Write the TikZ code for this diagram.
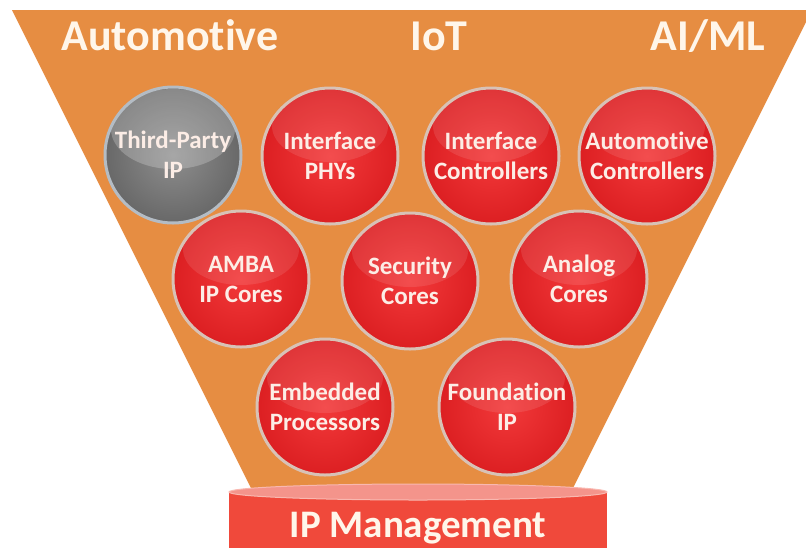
\documentclass[tikz,border=0pt]{standalone}
\usepackage{fontspec}
\setmainfont{Carlito}[Ligatures={NoCommon}]
\begin{document}
\begin{tikzpicture}[x=1pt,y=-1pt,
  hdr/.style={font=\fontsize{44}{44}\selectfont\bfseries, text=headtxt, anchor=base},
  ballbase/.style={circle, minimum size=136pt, inner sep=0pt, line width=3pt,
    align=center, font=\fontsize{25}{30}\selectfont\bfseries, text=balltxt},
  redball/.style={ballbase, draw=rimred, inner color=redin, outer color=redout,
    path picture={\fill[white,opacity=0.10] ([yshift=30pt]path picture bounding box.center) ellipse [x radius=58pt, y radius=36pt];}},
  grayball/.style={ballbase, draw=rimgray, inner color=grayin, outer color=grayout,
    path picture={\fill[white,opacity=0.22] ([yshift=26pt]path picture bounding box.center) ellipse [x radius=62pt, y radius=40pt];}},
]
\definecolor{funnel}{HTML}{E68D42}
\definecolor{headtxt}{HTML}{FFF6EA}
\definecolor{balltxt}{HTML}{FCEDE6}
\definecolor{rimred}{HTML}{D8C2B6}
\definecolor{rimgray}{HTML}{B4BCC4}
\definecolor{redin}{HTML}{F2393A}
\definecolor{redout}{HTML}{DC1F22}
\definecolor{grayin}{HTML}{8E8E8E}
\definecolor{grayout}{HTML}{686868}
\definecolor{cylbody}{HTML}{F0493B}
\definecolor{cyltop}{HTML}{F4948B}
\definecolor{cylrim}{HTML}{F9B8B0}
\clip (0,0) rectangle (806,547);
\useasboundingbox (0,0) rectangle (806,547);
\fill[white] (0,0) rectangle (806,547);
% funnel
\fill[funnel] (12,10) -- (812,10) -- (571,492) -- (253,492) -- cycle;
% headers
\node[hdr] (auto) at (170,50) {Automotive};
\node[hdr] (iot) at (439,50) {IoT};
\node[hdr] (aiml) at (708,50) {AI/ML};
% balls
\node[grayball] (tp) at (173,155) {Third-Party\\IP};
\node[redball] (phy) at (330,156) {Interface\\PHYs};
\node[redball] (ictl) at (491,156) {Interface\\Controllers};
\node[redball] (actl) at (647,156) {Automotive\\Controllers};
\node[redball] (amba) at (241,279) {AMBA\\IP Cores};
\node[redball] (sec) at (410,281) {Security\\Cores};
\node[redball] (ana) at (579,279) {Analog\\Cores};
\node[redball] (emb) at (325,407) {Embedded\\Processors};
\node[redball] (fnd) at (507,407) {Foundation\\IP};
% cylinder
\fill[cylbody] (229,492) rectangle (607,560);
\draw[cylrim, line width=1pt, fill=cyltop] (418,492) ellipse [x radius=189pt, y radius=8pt];
\node[font=\fontsize{39}{39}\selectfont\bfseries, text=headtxt, anchor=base] (ipm) at (418,537) {IP Management};
\end{tikzpicture}
\end{document}
